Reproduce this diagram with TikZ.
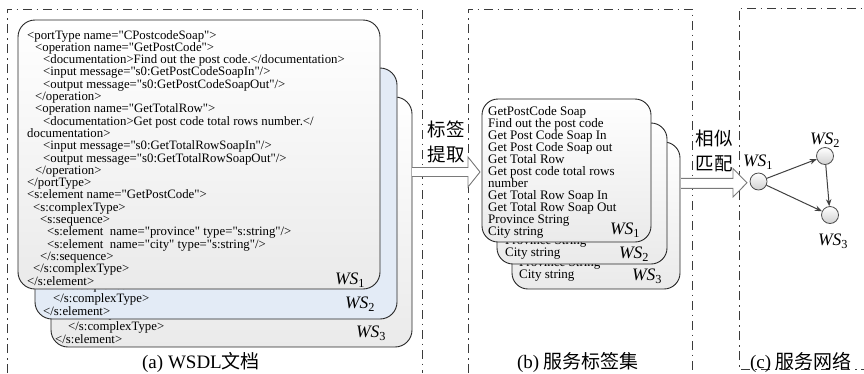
\documentclass[tikz,border=0pt]{standalone}
\usepackage{fontspec}
\setmainfont{Liberation Serif}
\newfontfamily\xmlf{Liberation Serif}
\newfontfamily\cjk{Noto Sans CJK SC}
\usetikzlibrary{arrows.meta}
\definecolor{panelc}{HTML}{3A3A3A}
\definecolor{cardblue}{HTML}{E3EBF6}
\definecolor{cardgray}{HTML}{EAEAEA}
\definecolor{arrowc}{HTML}{7A7A7A}
\definecolor{edgec}{HTML}{404040}
\begin{document}
\begin{tikzpicture}[x=1pt,y=-1pt,
  panel/.style={draw=panelc, line width=0.9pt, dash pattern=on 9pt off 4.5pt on 1.5pt off 5pt},
  card/.style={draw=black!85, line width=0.9pt, rounded corners=17pt, inner sep=0pt},
  xmltext/.style={font=\xmlf\fontsize{12.8}{12.3}\selectfont, align=left, inner sep=0pt, anchor=north west},
  tagtext/.style={font=\xmlf\fontsize{13}{12}\selectfont, align=left, inner sep=0pt, anchor=north west},
  lineleft/.style={font=\xmlf\fontsize{12.8}{12.3}\selectfont, inner sep=0pt, anchor=west},
  tagline/.style={font=\xmlf\fontsize{13}{12}\selectfont, inner sep=0pt, anchor=west},
  wslabel/.style={font=\fontsize{17.5}{20}\selectfont, inner sep=0pt},
  caption/.style={font=\fontsize{19}{22}\selectfont, inner sep=0pt},
  steplabel/.style={font=\cjk\fontsize{18.5}{25}\selectfont, align=center, inner sep=0pt},
  blockarrow/.style={draw=arrowc, line width=0.9pt, line join=miter},
  gnode/.style={circle, draw=black!70, line width=0.8pt, top color=white, bottom color=black!18, minimum size=17pt, inner sep=0pt},
  gedge/.style={draw=edgec, line width=1pt, -{Stealth[length=7pt,width=5.5pt]}},
]
\useasboundingbox (0,0) rectangle (864,373);
% panels
\draw[panel] (7,373) -- (7,9) -- (422,9) -- (422,373);
\draw[panel] (468,373) -- (468,9) -- (692,9) -- (692,373);
\draw[panel] (870,369) -- (739,369) -- (739,8) -- (870,8);

% ---------- (a) WSDL cards ----------
\node[card, top color=white, bottom color=cardgray, minimum width=361pt, minimum height=250pt] (a3) at (231.5,222) {};
\node[lineleft] (a3l1) at (75,315) {</s:sequence>};
\node[lineleft] (a3l2) at (68,327) {</s:complexType>};
\node[lineleft] (a3l3) at (55,339) {</s:element>};
\node[wslabel] (a3ws) at (371,333) {\textit{WS}\textsubscript{3}};

\node[card, fill=cardblue, minimum width=362pt, minimum height=251pt] (a2) at (216,193.5) {};
\node[lineleft] (a2l1) at (60,287) {</s:sequence>};
\node[lineleft] (a2l2) at (53,299) {</s:complexType>};
\node[lineleft] (a2l3) at (43,311) {</s:element>};
\node[wslabel] (a2ws) at (360,304) {\textit{WS}\textsubscript{2}};

\node[card, top color=white, bottom color=cardgray, minimum width=362pt, minimum height=269pt] (a1) at (199,154.5) {};
\node[xmltext] (a1t) at (27,30) {%
<portType name="CPostcodeSoap">\\
\hspace*{8pt}<operation name="GetPostCode">\\
\hspace*{16pt}<documentation>Find out the post code.</documentation>\\
\hspace*{16pt}<input message="s0:GetPostCodeSoapIn"/>\\
\hspace*{16pt}<output message="s0:GetPostCodeSoapOut"/>\\
\hspace*{8pt}</operation>\\
\hspace*{8pt}<operation name="GetTotalRow">\\
\hspace*{16pt}<documentation>Get post code total rows number.</\\
documentation>\\
\hspace*{16pt}<input message="s0:GetTotalRowSoapIn"/>\\
\hspace*{16pt}<output message="s0:GetTotalRowSoapOut"/>\\
\hspace*{8pt}</operation>\\
</portType>\\
<s:element name="GetPostCode">\\
\hspace*{6pt}<s:complexType>\\
\hspace*{13pt}<s:sequence>\\
\hspace*{20pt}<s:element\ \ name="province" type="s:string"/>\\
\hspace*{20pt}<s:element\ \ name="city" type="s:string"/>\\
\hspace*{13pt}</s:sequence>\\
\hspace*{6pt}</s:complexType>\\
</s:element>};
\node[wslabel] (a1ws) at (350,280) {\textit{WS}\textsubscript{1}};

% ---------- arrow 1 ----------
\path[fill=white] (412,167.5) -- (468,167.5) -- (468,157) -- (480,172) -- (468,187) -- (468,176.5) -- (412,176.5) -- cycle;
\draw[blockarrow] (412,167.5) -- (468,167.5) -- (468,157) -- (480,172) -- (468,187) -- (468,176.5) -- (412,176.5);
\node[steplabel] (s1) at (446,142) {标签\\提取};

% ---------- (b) tag cards ----------
\node[card, rounded corners=16pt, top color=white, bottom color=cardgray, minimum width=168pt, minimum height=147pt] (b3) at (596,215.5) {};
\node[tagline] (b3l1) at (519,264) {Province String};
\node[tagline] (b3l2) at (519,276) {City string};
\node[wslabel] (b3ws) at (647,276) {\textit{WS}\textsubscript{3}};

\node[card, rounded corners=16pt, top color=white, bottom color=cardgray, minimum width=170pt, minimum height=141pt] (b2) at (582,193.5) {};
\node[tagline] (b2l1) at (505,242) {Province String};
\node[tagline] (b2l2) at (505,254) {City string};
\node[wslabel] (b2ws) at (634,254) {\textit{WS}\textsubscript{2}};

\node[card, rounded corners=16pt, top color=white, bottom color=cardgray, minimum width=169pt, minimum height=143pt] (b1) at (566.5,170.5) {};
\node[tagtext] (b1t) at (488,106) {%
GetPostCode Soap\\
Find out the post code\\
Get Post Code Soap In\\
Get Post Code Soap out\\
Get Total Row\\
Get post code total rows\\
number\\
Get Total Row Soap In\\
Get Total Row Soap Out\\
Province String\\
City string};
\node[wslabel] (b1ws) at (625,230) {\textit{WS}\textsubscript{1}};

% ---------- arrow 2 ----------
\path[fill=white] (681,178.3) -- (733,178.3) -- (733,168.5) -- (747,182.8) -- (733,197) -- (733,188.3) -- (681,188.3) -- cycle;
\draw[blockarrow] (681,178.3) -- (733,178.3) -- (733,168.5) -- (747,182.8) -- (733,197) -- (733,188.3) -- (681,188.3);
\node[steplabel] (s2) at (714,150.5) {相似\\匹配};

% ---------- (c) service network ----------
\node[gnode] (c1) at (758.5,181.5) {};
\node[gnode] (c2) at (825,156) {};
\node[gnode] (c3) at (830,215) {};
\draw[gedge] (c1) -- (c2);
\draw[gedge] (c1) -- (c3);
\draw[gedge] (c2) -- (c3);
\node[wslabel] (c1ws) at (758,162) {\textit{WS}\textsubscript{1}};
\node[wslabel] (c2ws) at (825,140) {\textit{WS}\textsubscript{2}};
\node[wslabel] (c3ws) at (833,241) {\textit{WS}\textsubscript{3}};

% ---------- captions ----------
\node[caption] (capa) at (201,362) {(a) WSDL{\cjk 文档}};
\node[caption] (capb) at (578,362) {(b) {\cjk 服务标签集}};
\node[caption] (capc) at (801,362) {(c) {\cjk 服务网络}};
\end{tikzpicture}
\end{document}
